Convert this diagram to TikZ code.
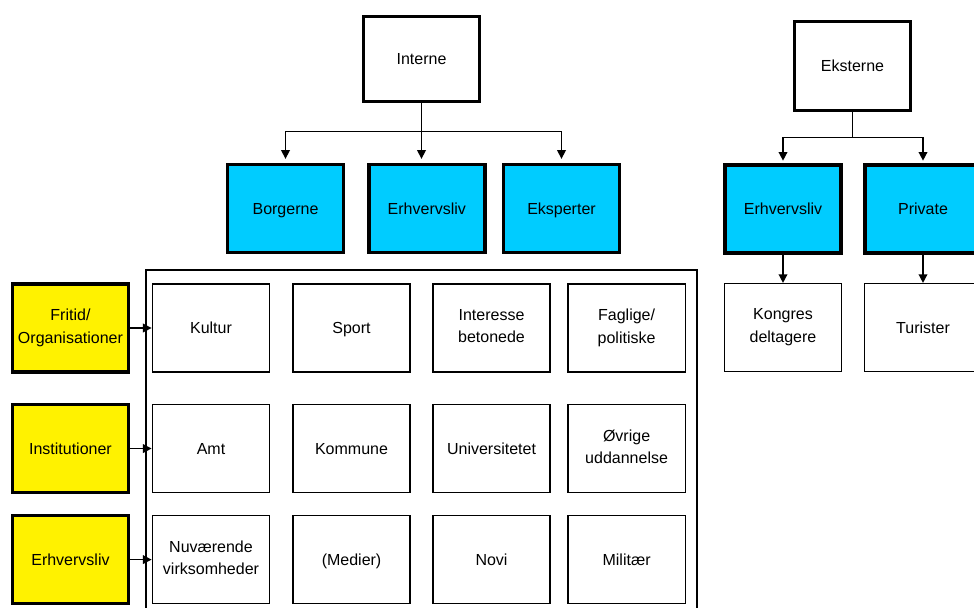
\documentclass[tikz,border=0pt]{standalone}
\usepackage{fontspec}
\setmainfont{Liberation Sans}
\usetikzlibrary{arrows.meta,positioning}

\definecolor{skyblue}{HTML}{00CCFF}
\tikzset{
  box/.style={draw,line width=1.1pt,minimum width=88pt,minimum height=66pt,
    align=center,inner sep=1pt,font=\fontsize{12}{17}\selectfont,
    execute at begin node={\rule[-3pt]{0pt}{14.3pt}},
    execute at end node={\rule[-3pt]{0pt}{14.3pt}}},
  mainbox/.style={box,line width=2.5pt,minimum width=87pt,minimum height=66pt},
  groupbox/.style={mainbox,fill=skyblue},
  sidebox/.style={mainbox,fill=yellow},
  arrow/.style={line width=1.1pt,-{Triangle[length=6.5pt,width=6.5pt]}},
}

\begin{document}
\begin{tikzpicture}[x=0.75pt,y=-0.75pt,on grid]
  \useasboundingbox (0,0) rectangle (974,607);
  % internal side
  \path
  node[mainbox,minimum height=64pt] (interne) at (421.5,59) {Interne}
  node[groupbox] (borgerne) at (285.5,208.5) {Borgerne}
  node[groupbox] (ierhverv) [right=106pt of borgerne] {Erhvervsliv}
  node[groupbox] (eksperter) [right=101pt of ierhverv] {Eksperter}
  ;
  % external side
  \path
  node[mainbox,minimum height=67pt] (eksterne) at (852.5,66) {Eksterne}
  node[groupbox] (eerhverv) at (783,209) {Erhvervsliv}
  node[groupbox] (private) [right=105pt of eerhverv] {Private}
  node[box] (kongres) [below=89pt of eerhverv] {Kongres\\deltagere}
  node[box] (turister) [below=89pt of private] {Turister}
  ;
  % grid of groups
  \draw[line width=1.1pt] (146,270) rectangle (697,625);
  \path
  node[box] (kultur) at (211,328) {Kultur}
  node[box] (sport) [right=105.4pt of kultur] {Sport}
  node[box] (interesse) [right=105pt of sport] {Interesse\\betonede}
  node[box] (faglige) [right=101.3pt of interesse] {Faglige/\\politiske}
  node[box] (amt) [below=90.4pt of kultur] {Amt}
  node[box] (kommune) [right=105.4pt of amt] {Kommune}
  node[box] (univ) [right=105pt of kommune] {Universitetet}
  node[box] (oevrige) [right=101.3pt of univ] {Øvrige\\uddannelse}
  node[box] (nuvaer) [below=83.3pt of amt] {Nuværende\\virksomheder}
  node[box] (medier) [right=105.4pt of nuvaer] {(Medier)}
  node[box] (novi) [right=105pt of medier] {Novi}
  node[box] (militaer) [right=101.3pt of novi] {Militær}
  node[sidebox] (fritid) [left=105.4pt of kultur] {Fritid/\\Organisationer}
  node[sidebox] (instit) [left=105.4pt of amt] {Institutioner}
  node[sidebox] (serhverv) [left=105.4pt of nuvaer] {Erhvervsliv}
  ;
  \coordinate (ibranch) at ([yshift=-21pt]interne.south);
  \coordinate (ebranch) at ([yshift=-19pt]eksterne.south);
  \path[arrow,shorten >=3pt]
  (interne.south) edge (interne.south |- ierhverv.north)
  (ibranch) edge[-] (interne.south)
  ;
  \draw[arrow,shorten >=3pt] (ibranch) -| (borgerne.north);
  \draw[arrow,shorten >=3pt] (ibranch) -| (eksperter.north);
  \draw[arrow,shorten >=2pt] (eksterne.south) -- (ebranch) -| (eerhverv.north);
  \draw[arrow,shorten >=2pt] (ebranch) -| (private.north);
  \path[arrow]
  (eerhverv) edge (kongres)
  (private) edge (turister)
  (fritid) edge (kultur)
  (instit) edge (amt)
  (serhverv) edge (nuvaer)
  ;
\end{tikzpicture}
\end{document}
